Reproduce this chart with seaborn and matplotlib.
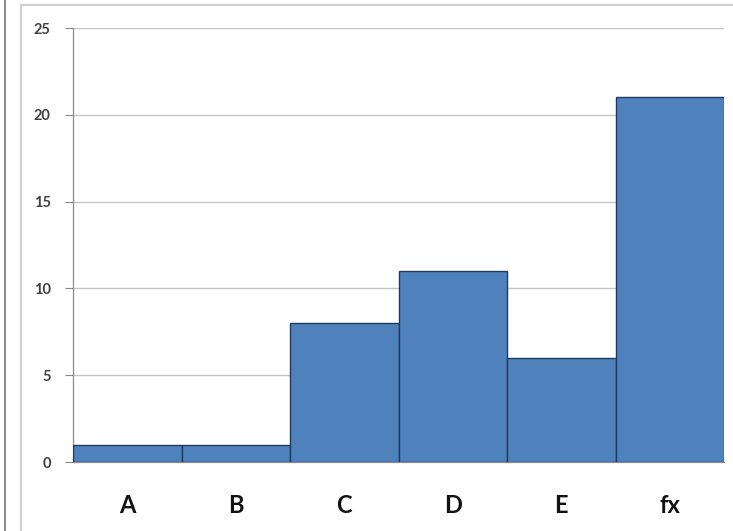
import matplotlib
matplotlib.use("Agg")
import matplotlib.pyplot as plt
import seaborn as sns
import pandas as pd
from matplotlib.patches import Rectangle
from matplotlib.lines import Line2D

categories = ["A", "B", "C", "D", "E", "fx"]
values = [1, 1, 8, 11, 6, 21]
y_ticks = [0, 5, 10, 15, 20, 25]

sns.set_style("white")
plt.rcParams["font.family"] = ["Lato", "DejaVu Sans"]

df = pd.DataFrame({"category": categories, "value": values})

fig = plt.figure(figsize=(7.33, 5.31), dpi=100)
ax = fig.add_axes([73 / 733, 1 - 462 / 531, (724 - 73) / 733, (462 - 28) / 531])

sns.barplot(data=df, x="category", y="value", ax=ax, color="#4F81BD",
            saturation=1, width=1.0, edgecolor="#1F3A60", linewidth=1.0, zorder=3)

ax.set_xlim(-0.5, len(categories) - 0.5)
ax.set_ylim(0, 25)
ax.set_yticks(y_ticks)
ax.set_yticklabels([str(t) for t in y_ticks], fontsize=10.5, fontweight="bold", color="#404040")
ax.yaxis.grid(True, color="#C4C4C4", linewidth=1.0, zorder=0)
ax.set_axisbelow(True)

ax.set_xlabel("")
ax.set_ylabel("")
ax.tick_params(axis="x", which="major", length=0, pad=23, labelsize=17)
for lbl in ax.get_xticklabels():
    lbl.set_fontweight("bold")
    lbl.set_color("#111111")
ax.set_xticks([i - 0.5 for i in range(len(categories) + 1)], minor=True)
ax.tick_params(axis="x", which="minor", length=6, width=0.8, color="#888888", direction="out")
ax.tick_params(axis="y", length=6, width=0.8, color="#888888", direction="out", left=True, pad=10)

for side in ["top", "right"]:
    ax.spines[side].set_visible(False)
ax.spines["left"].set_color("#8C8C8C")
ax.spines["bottom"].set_color("#8C8C8C")
ax.spines["left"].set_linewidth(0.9)
ax.spines["bottom"].set_linewidth(0.9)

# chart frame (left and top edges visible) and the dark line at the far left
fig.patches.append(Rectangle((21 / 733, -0.05), 0.99, 1.05 - 5 / 531 + 0.0,
                             transform=fig.transFigure, fill=False,
                             edgecolor="#D0D0D0", linewidth=1.5))
fig.lines.append(Line2D([5 / 733, 5 / 733], [0, 1], transform=fig.transFigure,
                        color="#777777", linewidth=1.2))

fig.savefig("out.png", dpi=100)
